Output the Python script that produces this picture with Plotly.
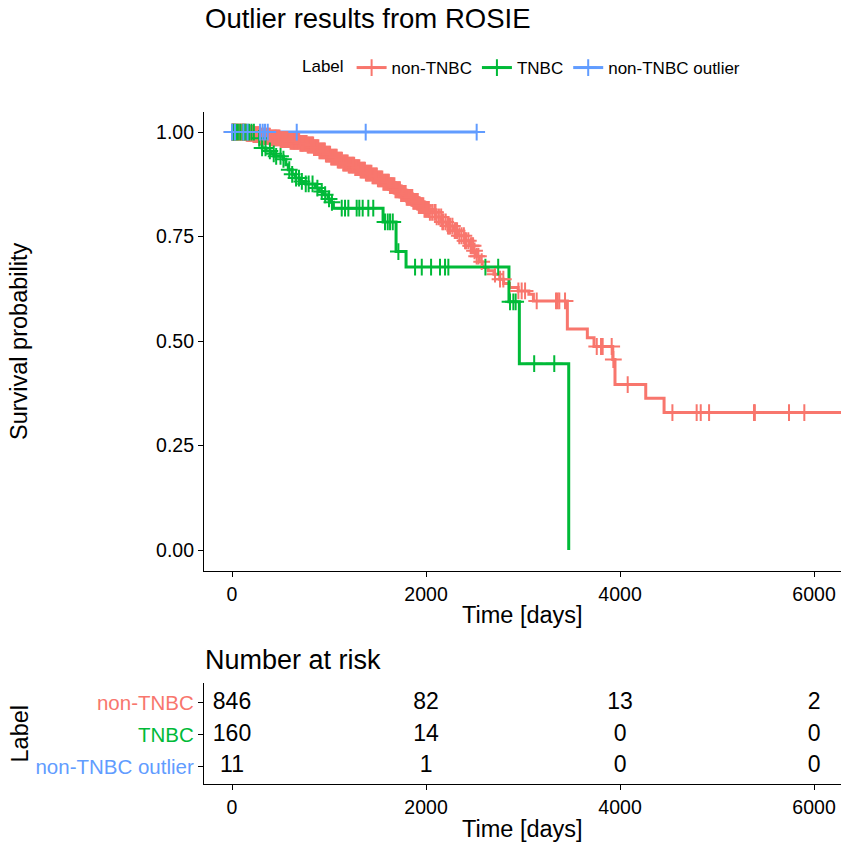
import numpy as np
import plotly.graph_objects as go

# ---- groups ---------------------------------------------------------------
groups = ["non-TNBC", "TNBC", "non-TNBC outlier"]
colors = ["#F8766D", "#00BA38", "#619CFF"]

# ---- Kaplan-Meier curves: event times (days) and survival after each event --
nontnbc_event_times = [150, 220, 300, 400, 500, 600, 700, 780, 840, 900, 960, 1020,
                       1080, 1140, 1200, 1260, 1320, 1380, 1440, 1500, 1560, 1620,
                       1680, 1740, 1800, 1860, 1920, 1980, 2040, 2100, 2160, 2220,
                       2280, 2340, 2400, 2450, 2490, 2520, 2550, 2580, 2640, 2700,
                       2760, 2800, 2860, 2950, 3060, 3107, 3457, 3663, 3732, 3925,
                       3948, 4265, 4454]
nontnbc_surv = [0.997, 0.994, 0.990, 0.986, 0.982, 0.978, 0.973, 0.969, 0.963, 0.955,
                0.947, 0.940, 0.933, 0.926, 0.921, 0.915, 0.909, 0.902, 0.895, 0.888,
                0.880, 0.872, 0.862, 0.853, 0.844, 0.834, 0.824, 0.815, 0.808, 0.797,
                0.785, 0.775, 0.764, 0.752, 0.740, 0.728, 0.716, 0.703, 0.690, 0.676,
                0.668, 0.660, 0.648, 0.638, 0.628, 0.620, 0.612, 0.596, 0.529, 0.508,
                0.487, 0.456, 0.396, 0.363, 0.329]
nontnbc_last_time = 6700
nontnbc_censor = [0, 4, 8, 12, 15, 22, 30, 37, 45, 53, 62, 71, 80, 88, 95, 103, 110, 119,
                  128, 134, 140, 151, 160, 168, 175, 183, 190, 201, 210, 221, 232, 241,
                  250, 261, 270, 279, 290, 301, 312, 321, 330, 340, 352, 362, 371, 380,
                  390, 403, 415, 426, 437, 446, 455, 466, 478, 489, 500, 511, 522, 532,
                  541, 551, 560, 572, 585, 594, 603, 615, 627, 638, 648, 659, 670, 681,
                  692, 704, 715, 724, 733, 746, 758, 769, 780, 790, 801, 814, 826, 836,
                  845, 857, 868, 879, 890, 901, 912, 924, 935, 946, 957, 968, 978, 990,
                  1001, 1011, 1022, 1034, 1046, 1057, 1068, 1079, 1090, 1101, 1112, 1122,
                  1133, 1146, 1158, 1169, 1180, 1192, 1203, 1213, 1224, 1236, 1247, 1259,
                  1270, 1280, 1291, 1302, 1313, 1325, 1336, 1348, 1359, 1370, 1380, 1391,
                  1402, 1414, 1425, 1437, 1448, 1459, 1470, 1482, 1493, 1504, 1515, 1527,
                  1538, 1549, 1560, 1572, 1583, 1595, 1606, 1617, 1628, 1639, 1650, 1662,
                  1674, 1685, 1697, 1709, 1720, 1731, 1743, 1754, 1766, 1778, 1790, 1801,
                  1812, 1824, 1835, 1846, 1858, 1869, 1880, 1892, 1903, 1915, 1926, 1938,
                  1950, 1961, 1972, 1984, 1995, 2006, 2017, 2029, 2040, 2063, 2086, 2098,
                  2110, 2133, 2156, 2168, 2180, 2203, 2226, 2238, 2250, 2272, 2296, 2308,
                  2320, 2343, 2366, 2390, 2402, 2413, 2436, 2460, 2471, 2485, 2500, 2522,
                  2540, 2574, 2711, 2763, 2797, 2952, 2986, 3021, 3141, 3340, 3357, 3374,
                  3433, 3760, 3804, 3821, 3914, 3931, 4079, 4540, 4790, 4832, 4918, 5381,
                  5390, 5742, 5900, 6400, 6700]

tnbc_event_times = [240, 265, 290, 310, 350, 400, 450, 530, 555, 580, 620, 650, 700,
                    760, 860, 900, 940, 990, 1020, 1045, 1557, 1691, 1794, 2855, 2962,
                    3471]
tnbc_surv = [0.993, 0.985, 0.972, 0.962, 0.955, 0.948, 0.942, 0.935, 0.922, 0.910,
             0.899, 0.890, 0.882, 0.876, 0.866, 0.858, 0.850, 0.840, 0.832, 0.818,
             0.785, 0.714, 0.677, 0.594, 0.446, 0.0]
tnbc_last_time = 3471
tnbc_censor = [5, 20, 40, 60, 85, 110, 130, 150, 175, 200, 225, 280, 310, 345, 390,
               430, 455, 500, 530, 590, 620, 660, 690, 720, 760, 790, 830, 880, 925,
               960, 1000, 1030, 1131, 1165, 1199, 1285, 1312, 1347, 1405, 1456, 1577,
               1605, 1629, 1657, 1715, 1887, 1956, 2052, 2144, 2196, 2230, 2612, 2744,
               2866, 2900, 2924, 3115, 3322]

outlier_event_times = []
outlier_surv = []
outlier_last_time = 2522
outlier_censor = [0, 30, 117, 160, 289, 316, 340, 368, 667, 1378, 2522]

# ---- number at risk table ---------------------------------------------------
risk_times = [0, 2000, 4000, 6000]
risk_nontnbc = [846, 82, 13, 2]
risk_tnbc = [160, 14, 0, 0]
risk_outlier = [11, 1, 0, 0]

curves = [
    (nontnbc_event_times, nontnbc_surv, nontnbc_last_time, nontnbc_censor),
    (tnbc_event_times, tnbc_surv, tnbc_last_time, tnbc_censor),
    (outlier_event_times, outlier_surv, outlier_last_time, outlier_censor),
]
risk_rows = [risk_nontnbc, risk_tnbc, risk_outlier]


def surv_at(t, times, surv):
    """Survival estimate just after time t for a right-continuous step curve."""
    idx = np.searchsorted(np.asarray(times, dtype=float), t, side="right")
    return 1.0 if idx == 0 else surv[idx - 1]


FONT = "Liberation Sans, Arial, sans-serif"
LINE_W = 3
MARK = dict(symbol="cross-thin", size=12)
fig = go.Figure()

# step lines
for (times, surv, last_t, _), name, col in zip(curves, groups, colors):
    xs = [0] + list(times) + [last_t]
    ys = [1.0] + list(surv) + [surv[-1] if surv else 1.0]
    fig.add_trace(go.Scatter(x=xs, y=ys, mode="lines", line=dict(color=col, width=LINE_W, shape="hv"),
                             showlegend=False, hoverinfo="skip", xaxis="x", yaxis="y"))

# censoring marks
for (times, surv, _, cens), name, col in zip(curves, groups, colors):
    cy = [surv_at(t, times, surv) for t in cens]
    fig.add_trace(go.Scatter(x=cens, y=cy, mode="markers",
                             marker=dict(**MARK, color=col, line=dict(color=col, width=2)),
                             showlegend=False, xaxis="x", yaxis="y"))

# legend keys
for name, col in zip(groups, colors):
    fig.add_trace(go.Scatter(x=[None], y=[None], mode="lines+markers", name=name,
                             line=dict(color=col, width=LINE_W),
                             marker=dict(**MARK, color=col, line=dict(color=col, width=2)),
                             xaxis="x", yaxis="y"))

# number-at-risk table
row_pos = [3, 2, 1]
for counts, yp in zip(risk_rows, row_pos):
    fig.add_trace(go.Scatter(x=risk_times, y=[yp] * len(risk_times), mode="text",
                             text=[str(c) for c in counts],
                             textfont=dict(size=23, color="black", family=FONT),
                             showlegend=False, hoverinfo="skip", xaxis="x2", yaxis="y2"))

W, H = 846, 843
px_x = lambda p: p / W
px_y = lambda p: 1 - p / H

x_range = [-289, 6278]
common_x = dict(range=x_range, tickvals=risk_times, showline=True, linecolor="black",
                linewidth=1.2, ticks="outside", ticklen=5, tickcolor="black", tickwidth=1.1,
                tickfont=dict(size=19.5, color="black", family=FONT), showgrid=False,
                zeroline=False, domain=[px_x(204), px_x(841)])

fig.update_layout(
    width=W, height=H,
    margin=dict(l=0, r=0, t=0, b=0),
    paper_bgcolor="white", plot_bgcolor="white",
    font=dict(family=FONT, color="black"),
    xaxis=dict(**common_x, anchor="y"),
    yaxis=dict(domain=[px_y(571), px_y(112)], range=[-0.05, 1.048],
               tickvals=[0, 0.25, 0.5, 0.75, 1.0], tickformat=".2f",
               showline=True, linecolor="black", linewidth=1.2, ticks="outside",
               ticklen=5, tickcolor="black", tickwidth=1.1,
               tickfont=dict(size=19.5, color="black", family=FONT),
               showgrid=False, zeroline=False, anchor="x"),
    xaxis2=dict(**common_x, anchor="y2"),
    yaxis2=dict(domain=[px_y(784), px_y(683)], range=[0.46, 3.62],
                tickvals=row_pos,
                ticktext=[f"<span style='color:{c}'>{g}</span>" for g, c in zip(groups, colors)],
                showline=True, linecolor="black", linewidth=1.2, ticks="outside",
                ticklen=5, tickcolor="black", tickwidth=1.1,
                tickfont=dict(size=20.5, family=FONT),
                showgrid=False, zeroline=False, anchor="x2"),
    legend=dict(orientation="h", x=px_x(522.5), xanchor="center", y=px_y(68),
                yanchor="middle", itemwidth=30,
                font=dict(size=17, color="black", family=FONT),
                title=dict(text="Label", side="left", font=dict(size=17, family=FONT))),
    annotations=[
        dict(text="Outlier results from ROSIE", x=px_x(203), y=px_y(18), xref="paper",
             yref="paper", xanchor="left", yanchor="middle", showarrow=False,
             font=dict(size=27.5, family=FONT, color="black")),
        dict(text="Survival probability", x=px_x(19), y=px_y(342), xref="paper",
             yref="paper", xanchor="center", yanchor="middle", textangle=-90,
             showarrow=False, font=dict(size=23.5, family=FONT, color="black")),
        dict(text="Time [days]", x=px_x(522.5), y=px_y(615), xref="paper", yref="paper",
             xanchor="center", yanchor="middle", showarrow=False,
             font=dict(size=23.5, family=FONT, color="black")),
        dict(text="Number at risk", x=px_x(203), y=px_y(660), xref="paper", yref="paper",
             xanchor="left", yanchor="middle", showarrow=False,
             font=dict(size=27, family=FONT, color="black")),
        dict(text="Label", x=px_x(19), y=px_y(733.5), xref="paper", yref="paper",
             xanchor="center", yanchor="middle", textangle=-90, showarrow=False,
             font=dict(size=23.5, family=FONT, color="black")),
        dict(text="Time [days]", x=px_x(522.5), y=px_y(829), xref="paper", yref="paper",
             xanchor="center", yanchor="middle", showarrow=False,
             font=dict(size=23.5, family=FONT, color="black")),
    ],
)

fig.write_html("out.html")
